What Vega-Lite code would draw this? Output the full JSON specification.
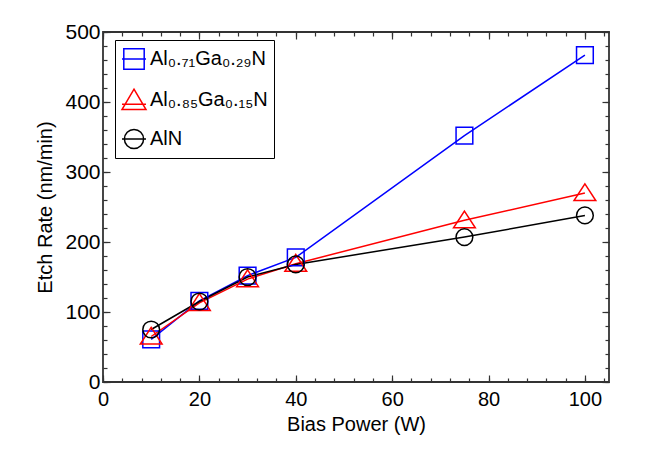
{
  "$schema": "https://vega.github.io/schema/vega-lite/v6.json",
  "width": 506,
  "height": 350,
  "autosize": "none",
  "padding": {"left": 103, "top": 32, "right": 49, "bottom": 72},
  "background": "white",
  "config": {
    "font": "Liberation Sans",
    "view": {"stroke": "#333333", "strokeWidth": 1.8},
    "axis": {"labelFlush": false, "labelOverlap": false, "grid": false, "domain": false, "tickColor": "#333333", "tickWidth": 1.2, "labelColor": "black", "titleColor": "black", "labelFontSize": 20, "titleFontSize": 20, "titleFontWeight": "normal", "labelFont": "Liberation Sans", "titleFont": "Liberation Sans"}
  },
  "data": {
    "values": [
      {"series": "Al₀.₇₁Ga₀.₂₉N", "power": 10, "rate": 61},
      {"series": "Al₀.₇₁Ga₀.₂₉N", "power": 20, "rate": 116},
      {"series": "Al₀.₇₁Ga₀.₂₉N", "power": 30, "rate": 152},
      {"series": "Al₀.₇₁Ga₀.₂₉N", "power": 40, "rate": 178},
      {"series": "Al₀.₇₁Ga₀.₂₉N", "power": 75, "rate": 352},
      {"series": "Al₀.₇₁Ga₀.₂₉N", "power": 100, "rate": 467},
      {"series": "Al₀.₈₅Ga₀.₁₅N", "power": 10, "rate": 65},
      {"series": "Al₀.₈₅Ga₀.₁₅N", "power": 20, "rate": 113},
      {"series": "Al₀.₈₅Ga₀.₁₅N", "power": 30, "rate": 147},
      {"series": "Al₀.₈₅Ga₀.₁₅N", "power": 40, "rate": 169},
      {"series": "Al₀.₈₅Ga₀.₁₅N", "power": 75, "rate": 231},
      {"series": "Al₀.₈₅Ga₀.₁₅N", "power": 100, "rate": 270},
      {"series": "AlN", "power": 10, "rate": 75},
      {"series": "AlN", "power": 20, "rate": 115},
      {"series": "AlN", "power": 30, "rate": 150},
      {"series": "AlN", "power": 40, "rate": 168},
      {"series": "AlN", "power": 75, "rate": 207},
      {"series": "AlN", "power": 100, "rate": 238}
    ]
  },
  "layer": [
    {
      "mark": {"type": "line", "strokeWidth": 1.5},
      "encoding": {
        "x": {"field": "power", "type": "quantitative", "scale": {"domain": [0, 105], "nice": false, "zero": false},
              "axis": {"orient": "bottom", "values": [0, 20, 40, 60, 80, 100], "tickSize": -7, "labelPadding": 14, "title": "Bias Power (W)", "titlePadding": 5}},
        "y": {"field": "rate", "type": "quantitative", "scale": {"domain": [0, 500], "nice": false},
              "axis": {"orient": "left", "values": [0, 100, 200, 300, 400, 500], "tickSize": -7, "labelPadding": 10, "labelFontSize": 21, "title": "Etch Rate (nm/min)", "titlePadding": 9}},
        "color": {"field": "series", "type": "nominal", "scale": {"domain": ["Al₀.₇₁Ga₀.₂₉N", "Al₀.₈₅Ga₀.₁₅N", "AlN"], "range": ["#0000ff", "#ff0000", "#000000"]}, "legend": null}
      }
    },
    {
      "mark": {"type": "point", "filled": false, "strokeWidth": 1.5, "opacity": 1},
      "encoding": {
        "x": {"field": "power", "type": "quantitative", "scale": {"domain": [0, 105], "nice": false, "zero": false},
              "axis": {"orient": "top", "values": [0, 20, 40, 60, 80, 100], "tickSize": -7, "labels": false, "title": null}},
        "y": {"field": "rate", "type": "quantitative", "scale": {"domain": [0, 500], "nice": false},
              "axis": {"orient": "right", "values": [0, 100, 200, 300, 400, 500], "tickSize": -7, "labels": false, "title": null}},
        "color": {"field": "series", "type": "nominal", "scale": {"domain": ["Al₀.₇₁Ga₀.₂₉N", "Al₀.₈₅Ga₀.₁₅N", "AlN"], "range": ["#0000ff", "#ff0000", "#000000"]}, "legend": null},
        "shape": {"field": "series", "type": "nominal", "scale": {"domain": ["Al₀.₇₁Ga₀.₂₉N", "Al₀.₈₅Ga₀.₁₅N", "AlN"], "range": ["M-1,-1H1V1H-1Z", "M0,-1.1L1.3,0.9H-1.3Z", "circle"]}, "legend": null},
        "size": {"value": 280}
      }
    },
    {
      "mark": {"type": "point", "filled": false, "strokeWidth": 1.5, "opacity": 0},
      "encoding": {
        "x": {"field": "power", "type": "quantitative", "scale": {"domain": [0, 105], "nice": false, "zero": false},
              "axis": {"orient": "bottom", "values": [0, 4, 8, 12, 16, 20, 24, 28, 32, 36, 40, 44, 48, 52, 56, 60, 64, 68, 72, 76, 80, 84, 88, 92, 96, 100, 104], "tickSize": -4, "labels": false, "title": null}},
        "y": {"field": "rate", "type": "quantitative", "scale": {"domain": [0, 500], "nice": false},
              "axis": {"orient": "left", "values": [0, 20, 40, 60, 80, 100, 120, 140, 160, 180, 200, 220, 240, 260, 280, 300, 320, 340, 360, 380, 400, 420, 440, 460, 480, 500], "tickSize": -4, "labels": false, "title": null}},
        "color": {"field": "series", "type": "nominal", "scale": {"domain": ["Al₀.₇₁Ga₀.₂₉N", "Al₀.₈₅Ga₀.₁₅N", "AlN"], "range": ["#0000ff", "#ff0000", "#000000"]},
                  "legend": {"title": null, "orient": "none", "legendX": 12, "legendY": 8, "strokeColor": "black", "fillColor": "white", "padding": 6, "rowPadding": 13, "symbolSize": 576, "symbolOpacity": 1, "symbolStrokeWidth": 1.5, "symbolFillColor": "transparent", "labelFontSize": 20, "labelFont": "Liberation Sans", "labelColor": "black", "labelOffset": 3, "labelLimit": 300}},
        "shape": {"field": "series", "type": "nominal", "scale": {"domain": ["Al₀.₇₁Ga₀.₂₉N", "Al₀.₈₅Ga₀.₁₅N", "AlN"], "range": ["M-0.85,-0.85H0.85V0.85H-0.85Z M-1,0H1", "M0,-0.9L1,0.8H-1Z M-1,0.35H1", "M-0.8,0A0.8,0.8 0 1,1 0.8,0A0.8,0.8 0 1,1 -0.8,0Z M-1,0H1"]},
                  "legend": {"title": null, "orient": "none", "legendX": 12, "legendY": 8, "strokeColor": "black", "fillColor": "white", "padding": 6, "rowPadding": 13, "symbolSize": 576, "symbolOpacity": 1, "symbolStrokeWidth": 1.5, "symbolFillColor": "transparent", "labelFontSize": 20, "labelFont": "Liberation Sans", "labelColor": "black", "labelOffset": 3, "labelLimit": 300}}
      }
    },
    {
      "mark": {"type": "point", "filled": false, "opacity": 0},
      "encoding": {
        "x": {"field": "power", "type": "quantitative", "scale": {"domain": [0, 105], "nice": false, "zero": false},
              "axis": {"orient": "top", "values": [0, 4, 8, 12, 16, 20, 24, 28, 32, 36, 40, 44, 48, 52, 56, 60, 64, 68, 72, 76, 80, 84, 88, 92, 96, 100, 104], "tickSize": -4, "labels": false, "title": null}},
        "y": {"field": "rate", "type": "quantitative", "scale": {"domain": [0, 500], "nice": false},
              "axis": {"orient": "right", "values": [0, 20, 40, 60, 80, 100, 120, 140, 160, 180, 200, 220, 240, 260, 280, 300, 320, 340, 360, 380, 400, 420, 440, 460, 480, 500], "tickSize": -4, "labels": false, "title": null}}
      }
    }
  ],
  "resolve": {
    "scale": {"x": "independent", "y": "independent", "color": "independent", "shape": "independent"},
    "axis": {"x": "independent", "y": "independent"}
  }
}
